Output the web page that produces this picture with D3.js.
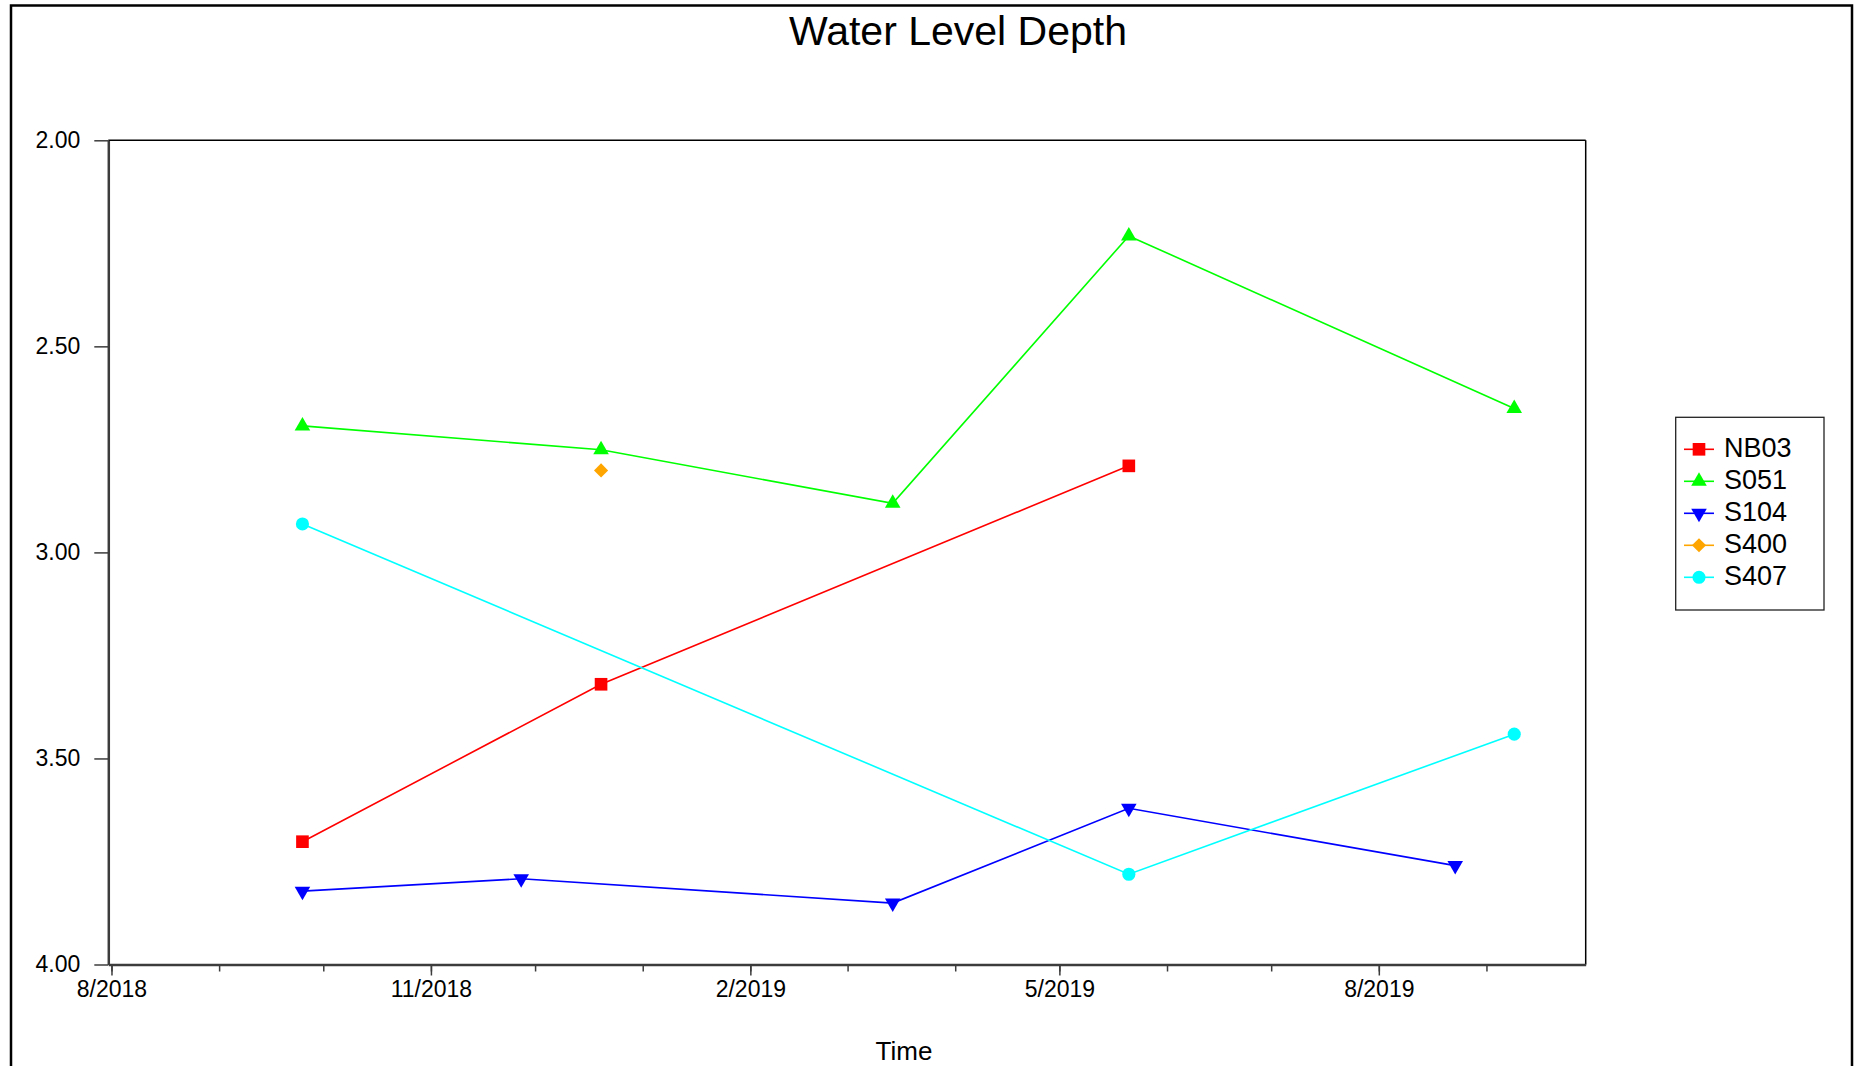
<!DOCTYPE html>
<html>
<head>
<meta charset="utf-8">
<script src="https://cdn.jsdelivr.net/npm/d3@7"></script>
<style>
  html, body { margin: 0; padding: 0; background: #fff; }
  svg { display: block; }
  text { font-family: Arial, "Liberation Sans", sans-serif; fill: #000; }
</style>
</head>
<body>
<svg id="chart" width="1854" height="1066"></svg>
<script>
// ---------- data ----------
const seriesNames = ["NB03", "S051", "S104", "S400", "S407"];
const seriesColors = ["#ff0000", "#00ff00", "#0000ff", "#ffa500", "#00ffff"];
const seriesSymbols = ["square", "triangleUp", "triangleDown", "diamond", "circle"];

const nb03Dates = ["2018-09-25", "2018-12-20", "2019-05-21"];
const nb03Values = [3.702, 3.320, 2.790];

const s051Dates = ["2018-09-25", "2018-12-20", "2019-03-14", "2019-05-21", "2019-09-09"];
const s051Values = [2.693, 2.751, 2.881, 2.232, 2.651];

const s104Dates = ["2018-09-25", "2018-11-27", "2019-03-14", "2019-05-21", "2019-08-23"];
const s104Values = [3.822, 3.792, 3.851, 3.621, 3.760];

const s400Dates = ["2018-12-20"];
const s400Values = [2.801];

const s407Dates = ["2018-09-25", "2019-05-21", "2019-09-09"];
const s407Values = [2.931, 3.781, 3.441];

const xMajorTickLabels = ["8/2018", "11/2018", "2/2019", "5/2019", "8/2019"];
const yTickValues = [2.00, 2.50, 3.00, 3.50, 4.00];

const chartTitle = "Water Level Depth";
const xAxisTitle = "Time";

// ---------- setup ----------
const parseDate = d3.timeParse("%Y-%m-%d");
const parseMonth = d3.timeParse("%m/%Y");
const fmtMonth = d3.timeFormat("%-m/%Y");

const allDates = [nb03Dates, s051Dates, s104Dates, s400Dates, s407Dates];
const allValues = [nb03Values, s051Values, s104Values, s400Values, s407Values];
const series = seriesNames.map((name, i) => ({
  name, color: seriesColors[i], symbol: seriesSymbols[i],
  points: allDates[i].map((d, j) => ({ date: parseDate(d), value: allValues[i][j] }))
}));

const svg = d3.select("#chart");
const W = 1854, H = 1066;
const plot = { left: 108.3, right: 1585.7, top: 140.3, bottom: 964.5 };

const x = d3.scaleTime()
  .domain([new Date(2018, 6, 31, 2), new Date(2019, 8, 29, 14)])
  .range([plot.left, plot.right]);
const y = d3.scaleLinear().domain([2, 4]).range([plot.top, plot.bottom]);

// outer frame
svg.append("rect").attr("x", 0).attr("y", 0).attr("width", W).attr("height", H).attr("fill", "#fff");
svg.append("path")
  .attr("d", `M11,${H + 5} L11,5.5 L1852,5.5 L1852,${H + 5}`)
  .attr("fill", "none").attr("stroke", "#000").attr("stroke-width", 2.5);

// title
svg.append("text").attr("x", 958).attr("y", 45).attr("text-anchor", "middle")
  .attr("font-size", 41).text(chartTitle);

// plot frame top/right
svg.append("line").attr("x1", plot.left).attr("x2", plot.right).attr("y1", plot.top).attr("y2", plot.top)
  .attr("stroke", "#000").attr("stroke-width", 1.5);
svg.append("line").attr("x1", plot.right).attr("x2", plot.right).attr("y1", plot.top).attr("y2", plot.bottom)
  .attr("stroke", "#000").attr("stroke-width", 1.5);

// y axis
const yAxis = svg.append("g").attr("transform", `translate(${plot.left},0)`)
  .call(d3.axisLeft(y).tickValues(yTickValues).tickFormat(d3.format(".2f")).tickSizeInner(14).tickSizeOuter(0).tickPadding(14));
yAxis.select(".domain").attr("stroke", "#3c3c3c").attr("stroke-width", 2.5);
yAxis.selectAll(".tick line").attr("stroke", "#3c3c3c").attr("stroke-width", 1.5);
yAxis.selectAll(".tick text").attr("font-size", 23).attr("font-family", "Arial, 'Liberation Sans', sans-serif").attr("fill", "#000");

// x axis minor ticks (monthly)
const minorTicks = d3.timeMonth.range(d3.timeMonth.ceil(x.domain()[0]), x.domain()[1]);
const xMinor = svg.append("g").attr("transform", `translate(0,${plot.bottom})`)
  .call(d3.axisBottom(x).tickValues(minorTicks).tickFormat("").tickSizeInner(7).tickSizeOuter(0));
xMinor.select(".domain").remove();
xMinor.selectAll(".tick line").attr("stroke", "#3c3c3c").attr("stroke-width", 1.5);

// x axis major ticks
const majorTicks = xMajorTickLabels.map(parseMonth);
const xAxis = svg.append("g").attr("transform", `translate(0,${plot.bottom})`)
  .call(d3.axisBottom(x).tickValues(majorTicks).tickFormat(fmtMonth).tickSizeInner(11).tickSizeOuter(0).tickPadding(5));
xAxis.select(".domain").attr("stroke", "#3c3c3c").attr("stroke-width", 2.5);
xAxis.selectAll(".tick line").attr("stroke", "#3c3c3c").attr("stroke-width", 1.5);
xAxis.selectAll(".tick text").attr("font-size", 23).attr("font-family", "Arial, 'Liberation Sans', sans-serif").attr("fill", "#000");

// x axis title
svg.append("text").attr("x", 904).attr("y", 1060).attr("text-anchor", "middle")
  .attr("font-size", 26).text(xAxisTitle);

// symbols
const symbolPath = {
  square: d3.symbol().type(d3.symbolSquare).size(160)(),
  triangleUp: d3.symbol().type(d3.symbolTriangle).size(105)(),
  triangleDown: d3.symbol().type(d3.symbolTriangle).size(105)(),
  diamond: d3.symbol().type(d3.symbolSquare).size(100)(),
  circle: d3.symbol().type(d3.symbolCircle).size(135)()
};
const symbolTransform = s => s === "triangleDown" ? " rotate(180)" : (s === "diamond" ? " rotate(45)" : "");

const line = d3.line().x(d => x(d.date)).y(d => y(d.value));
const gSeries = svg.append("g");
series.forEach(s => {
  if (s.points.length > 1) {
    gSeries.append("path").datum(s.points).attr("d", line)
      .attr("fill", "none").attr("stroke", s.color).attr("stroke-width", 1.6);
  }
});
series.forEach(s => {
  gSeries.selectAll(null).data(s.points).enter().append("path")
    .attr("d", symbolPath[s.symbol])
    .attr("transform", d => `translate(${x(d.date)},${y(d.value)})${symbolTransform(s.symbol)}`)
    .attr("fill", s.color);
});

// legend
const legend = svg.append("g");
legend.append("rect").attr("x", 1675.7).attr("y", 417.3).attr("width", 148.3).attr("height", 192.7)
  .attr("fill", "#fff").attr("stroke", "#222").attr("stroke-width", 1.3);
const legendY = d3.scalePoint().domain(seriesNames).range([449.3, 577.3]);
series.forEach(s => {
  const ly = legendY(s.name);
  legend.append("line").attr("x1", 1684).attr("x2", 1714).attr("y1", ly).attr("y2", ly)
    .attr("stroke", s.color).attr("stroke-width", 1.6);
  legend.append("path").attr("d", symbolPath[s.symbol])
    .attr("transform", `translate(1699,${ly})${symbolTransform(s.symbol)}`)
    .attr("fill", s.color);
  legend.append("text").attr("x", 1724).attr("y", ly + 7.8).attr("font-size", 27).text(s.name);
});
</script>
</body>
</html>
